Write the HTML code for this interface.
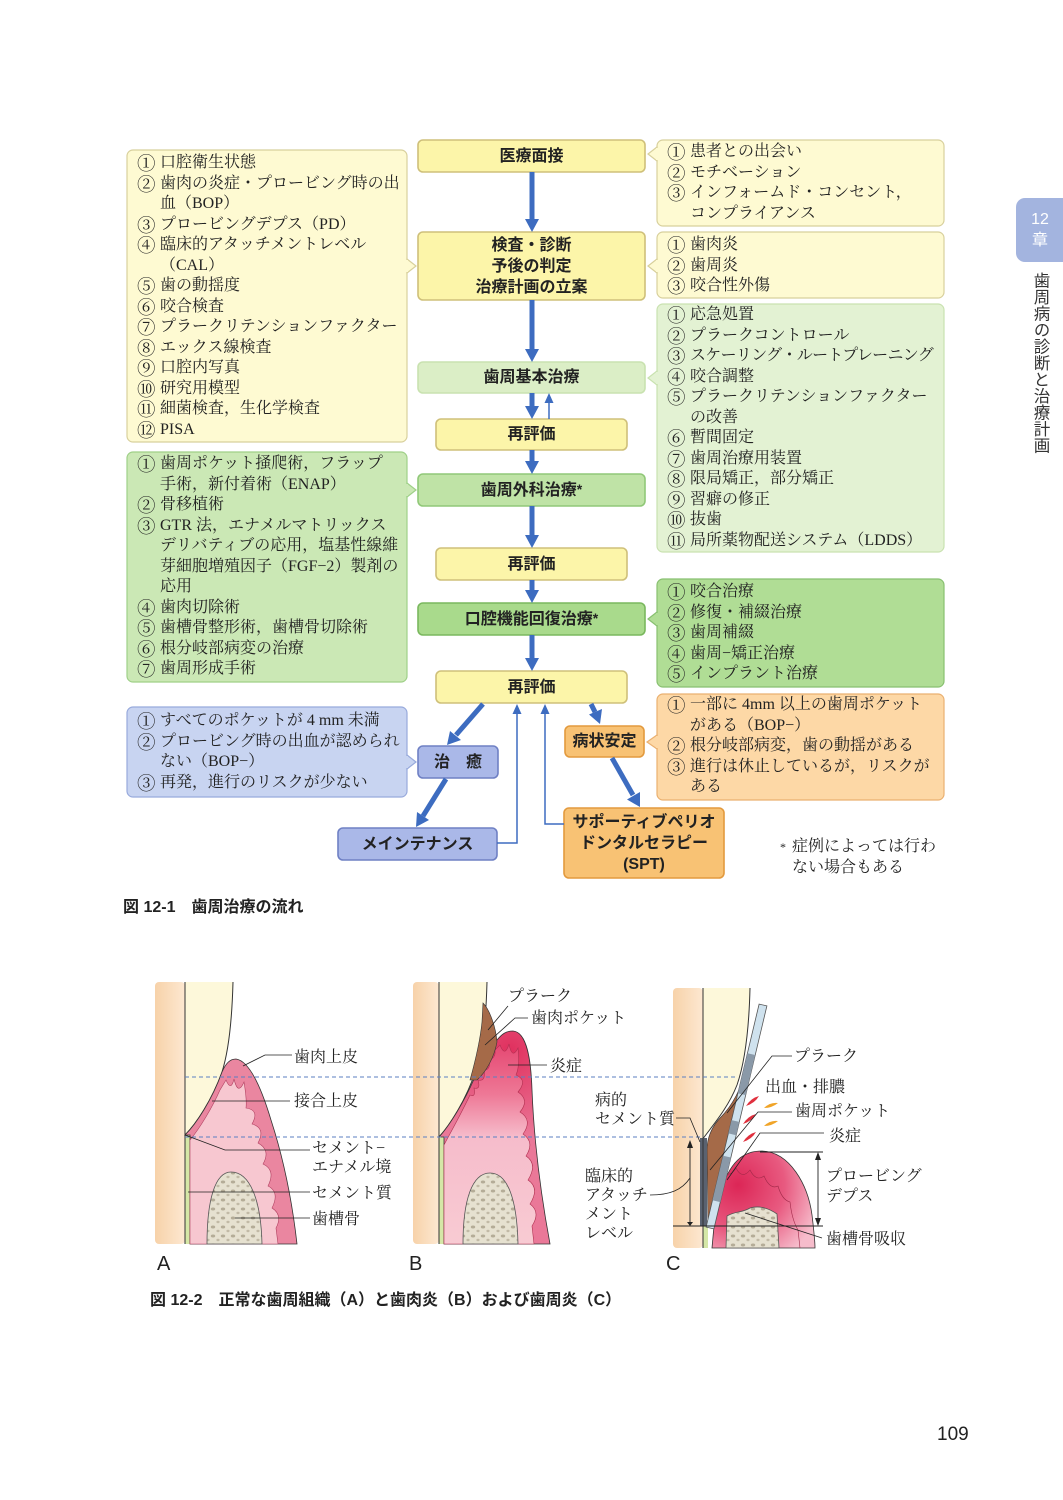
<!DOCTYPE html>
<html><head><meta charset="utf-8">
<style>
body{margin:0;}
#p{position:relative;width:1063px;height:1500px;background:#fff;overflow:hidden;}
svg{position:absolute;left:0;top:0;}
.l{position:absolute;font-family:"Liberation Serif","Noto Serif CJK SC",serif;font-size:16px;line-height:20.5px;color:#222;white-space:nowrap;}
.l div{height:20.5px}
.n{display:inline-block;width:23px;font-family:"Noto Serif CJK SC",serif;font-size:18.5px;line-height:20px;vertical-align:top;}
.c{padding-left:23px}
.b{position:absolute;display:flex;align-items:center;justify-content:center;text-align:center;font-family:"Liberation Sans","Noto Sans CJK JP",sans-serif;font-weight:bold;font-size:16px;color:#222;line-height:21px;}
.cap{position:absolute;font-family:"Liberation Sans","Noto Sans CJK JP",sans-serif;font-weight:bold;font-size:16px;color:#222;white-space:nowrap;}
sup{font-size:14px;line-height:0;position:relative;top:-1px}
</style></head>
<body><div id="p">
<svg width="1063" height="1500" viewBox="0 0 1063 1500">
<defs>
<linearGradient id="peach" x1="0" y1="0" x2="1" y2="0"><stop offset="0" stop-color="#f7d2a9"/><stop offset="1" stop-color="#fde8d1"/></linearGradient>
<pattern id="bone" width="10" height="9" patternUnits="userSpaceOnUse"><rect width="10" height="9" fill="#e6e1d0"/><ellipse cx="3" cy="3" rx="2.2" ry="1.5" fill="#b4ac97"/><ellipse cx="8" cy="7" rx="1.6" ry="1.2" fill="#c2baa6"/></pattern>
<radialGradient id="gumBo" gradientUnits="userSpaceOnUse" cx="510" cy="1050" r="90"><stop offset="0" stop-color="#e0305e"/><stop offset="1" stop-color="#ea7898"/></radialGradient>
<linearGradient id="gumB" gradientUnits="userSpaceOnUse" x1="0" y1="1030" x2="0" y2="1244"><stop offset="0" stop-color="#e33a68"/><stop offset="0.3" stop-color="#ee7896"/><stop offset="0.5" stop-color="#f6bccb"/><stop offset="1" stop-color="#f8cbd3"/></linearGradient>
<radialGradient id="gumC" gradientUnits="userSpaceOnUse" cx="738" cy="1185" r="85"><stop offset="0" stop-color="#dc2656"/><stop offset="0.55" stop-color="#e85a80"/><stop offset="1" stop-color="#f6bccb"/></radialGradient>
</defs>

<rect x="127" y="150" width="280" height="292" rx="6" fill="#fefad2" stroke="#d8d09c" stroke-width="1.2"/>
<rect x="127" y="452" width="280" height="230" rx="6" fill="#cbe8b5" stroke="#9fd088" stroke-width="1.2"/>
<rect x="127" y="707" width="280" height="90" rx="6" fill="#c8d4f1" stroke="#98aadc" stroke-width="1.2"/>
<rect x="657" y="140" width="287" height="86" rx="6" fill="#fefad2" stroke="#d8d09c" stroke-width="1.2"/>
<rect x="657" y="232" width="287" height="66" rx="6" fill="#fefad2" stroke="#d8d09c" stroke-width="1.2"/>
<rect x="657" y="304" width="287" height="248" rx="6" fill="#e3f2d3" stroke="#c9e2b0" stroke-width="1.2"/>
<rect x="657" y="579" width="287" height="108" rx="6" fill="#b0dd95" stroke="#88c070" stroke-width="1.2"/>
<rect x="657" y="694" width="287" height="106" rx="6" fill="#fdd8a6" stroke="#eab070" stroke-width="1.2"/>

<g stroke-width="1.2">
<polygon points="407,259 416,266 407,273" fill="#fefad2" stroke="#d8d09c"/><line x1="407" y1="260" x2="407" y2="272" stroke="#fefad2" stroke-width="2"/>
<polygon points="407,483 416,490 407,497" fill="#cbe8b5" stroke="#9fd088"/><line x1="407" y1="484" x2="407" y2="496" stroke="#cbe8b5" stroke-width="2"/>
<polygon points="407,755 416,762 407,769" fill="#c8d4f1" stroke="#98aadc"/><line x1="407" y1="756" x2="407" y2="768" stroke="#c8d4f1" stroke-width="2"/>
<polygon points="657,147 648,154 657,161" fill="#fefad2" stroke="#d8d09c"/><line x1="657" y1="148" x2="657" y2="160" stroke="#fefad2" stroke-width="2"/>
<polygon points="657,259 648,266 657,273" fill="#fefad2" stroke="#d8d09c"/><line x1="657" y1="260" x2="657" y2="272" stroke="#fefad2" stroke-width="2"/>
<polygon points="657,371 648,378 657,385" fill="#e3f2d3" stroke="#c9e2b0"/><line x1="657" y1="372" x2="657" y2="384" stroke="#e3f2d3" stroke-width="2"/>
<polygon points="657,612 648,619 657,626" fill="#b0dd95" stroke="#88c070"/><line x1="657" y1="613" x2="657" y2="625" stroke="#b0dd95" stroke-width="2"/>
<polygon points="657,735 647,742 657,749" fill="#fdd8a6" stroke="#eab070"/><line x1="657" y1="736" x2="657" y2="748" stroke="#fdd8a6" stroke-width="2"/>
</g>

<g stroke-width="1.6">
<rect x="418" y="140" width="227" height="32" rx="5" fill="#fcf5a9" stroke="#cfc07a"/>
<rect x="418" y="232" width="227" height="68" rx="5" fill="#fcf5a9" stroke="#cfc07a"/>
<rect x="418" y="362" width="227" height="31" rx="5" fill="#dbeec6" stroke="#c9e2b0"/>
<rect x="436" y="419" width="191" height="31" rx="5" fill="#fcf5a9" stroke="#cfc07a"/>
<rect x="418" y="474" width="227" height="32" rx="5" fill="#bfe3a6" stroke="#90c878"/>
<rect x="436" y="548" width="191" height="32" rx="5" fill="#fcf5a9" stroke="#cfc07a"/>
<rect x="418" y="603" width="227" height="32" rx="5" fill="#a9da8c" stroke="#7ab85e"/>
<rect x="436" y="671" width="191" height="32" rx="5" fill="#fcf5a9" stroke="#cfc07a"/>
<rect x="418" y="746" width="80" height="32" rx="5" fill="#aab8e8" stroke="#6f80c4"/>
<rect x="338" y="828" width="159" height="32" rx="5" fill="#aab8e8" stroke="#6f80c4"/>
<rect x="565" y="726" width="79" height="31" rx="5" fill="#f8c274" stroke="#e39a3e"/>
<rect x="564" y="808" width="160" height="70" rx="5" fill="#f8c274" stroke="#e39a3e"/>
</g>

<g fill="#3d6cc0" stroke="#3d6cc0">
<line x1="532" y1="172" x2="532" y2="221" stroke-width="5"/><polygon points="525,219 539,219 532,232" stroke="none"/>
<line x1="532" y1="300" x2="532" y2="351" stroke-width="5"/><polygon points="525,349 539,349 532,362" stroke="none"/>
<line x1="532" y1="393" x2="532" y2="408" stroke-width="5"/><polygon points="525,406 539,406 532,419" stroke="none"/>
<line x1="549" y1="419" x2="549" y2="401" stroke-width="1.5"/><polygon points="544.5,403 553.5,403 549,393" stroke="none"/>
<line x1="532" y1="450" x2="532" y2="463" stroke-width="5"/><polygon points="525,461 539,461 532,474" stroke="none"/>
<line x1="532" y1="506" x2="532" y2="537" stroke-width="5"/><polygon points="525,535 539,535 532,548" stroke="none"/>
<line x1="532" y1="580" x2="532" y2="592" stroke-width="5"/><polygon points="525,590 539,590 532,603" stroke="none"/>
<line x1="532" y1="635" x2="532" y2="660" stroke-width="5"/><polygon points="525,658 539,658 532,671" stroke="none"/>
<line x1="483" y1="704" x2="456" y2="735" stroke-width="5"/><polygon points="461,740 450,731 447,745" stroke="none"/>
<line x1="446" y1="779" x2="423" y2="816" stroke-width="5"/><polygon points="429,820 417,812 416,827" stroke="none"/>
<line x1="591" y1="704" x2="595" y2="712" stroke-width="5"/><polygon points="602,709 589,714.5 600,724" stroke="none"/>
<line x1="612" y1="758" x2="633" y2="795" stroke-width="5"/><polygon points="640,792 627,799.5 640,807" stroke="none"/>
<polyline points="497,843 517,843 517,712" fill="none" stroke-width="1.5"/><polygon points="512.5,714 521.5,714 517,704" stroke="none"/>
<polyline points="564,824 545,824 545,712" fill="none" stroke-width="1.5"/><polygon points="540.5,714 549.5,714 545,704" stroke="none"/>
</g>

<rect x="1016" y="198" width="60" height="64" rx="9" fill="#a3b4df"/>
<text x="1040" y="224" text-anchor="middle" font-family="Liberation Sans,sans-serif" font-size="16" fill="#fff">12</text>
<text x="1040" y="245" text-anchor="middle" font-family="Liberation Sans,Noto Sans CJK JP,sans-serif" font-size="16" fill="#fff">章</text>

<!-- A -->
<rect x="155" y="982" width="30" height="262" rx="4" fill="url(#peach)"/>
<path d="M185,982 L233,982 C232,1020 229,1050 222,1072 C212,1100 196,1124 185,1135 Z" fill="#fdf8da"/>
<path d="M233,982 C232,1020 229,1050 222,1072 C212,1100 196,1124 185,1135" fill="none" stroke="#333" stroke-width="1"/>
<rect x="185" y="1135" width="5" height="109" fill="#d5e7a7"/>
<path d="M222,1072 C226,1063 230,1059 236,1059 C250,1061 262,1090 271,1120 C284,1160 292,1200 297,1244 L190,1244 L190,1135 L185,1135 C196,1124 212,1100 222,1072 Z" fill="#ea86a0" stroke="#333" stroke-width="0.8"/>
<path d="M190,1140 C200,1128 212,1108 220,1090 L226,1080 Q231,1092 234,1079 Q238,1096 244,1082 Q247,1100 246,1108 Q260,1110 252,1124 Q266,1128 258,1143 Q271,1150 263,1164 Q276,1170 268,1186 Q280,1192 272,1208 Q283,1215 276,1228 L278,1244 L190,1244 Z" fill="#f7c7d0" stroke="#b04060" stroke-width="0.6"/>
<path d="M207,1244 C207,1200 215,1172 231,1172 C250,1172 261,1200 262,1244 Z" fill="url(#bone)" stroke="#555" stroke-width="0.8"/>
<line x1="185" y1="982" x2="185" y2="1244" stroke="#333" stroke-width="1"/>

<!-- B -->
<rect x="413" y="982" width="26" height="262" rx="4" fill="url(#peach)"/>
<path d="M439,982 L487,982 C486,1020 483,1050 476,1070 C466,1100 450,1125 439,1137 Z" fill="#fdf8da"/>
<path d="M487,982 C486,1020 483,1050 476,1070 C466,1100 450,1125 439,1137" fill="none" stroke="#333"/>
<rect x="439" y="1137" width="5" height="107" fill="#d5e7a7"/>
<path d="M474,1079 C483,1062 491,1046 497,1040 C502,1034 506,1031 513,1031 C527,1032 531,1060 532,1090 C534,1140 540,1190 550,1244 L444,1244 L444,1137 L439,1137 C450,1125 465,1100 474,1079 Z" fill="url(#gumBo)" stroke="#333" stroke-width="0.8"/>
<path d="M444,1145 C452,1130 462,1112 470,1095 Q476,1098 474,1088 Q481,1090 478,1080 Q486,1082 484,1070 Q491,1070 489,1060 Q496,1058 495,1050 L500,1045 Q505,1058 509,1044 Q512,1060 518,1048 Q520,1066 516,1075 Q528,1080 518,1092 Q530,1100 520,1112 Q533,1120 523,1134 Q535,1142 526,1156 Q538,1164 528,1180 Q540,1188 530,1204 Q541,1212 532,1226 L534,1244 L444,1244 Z" fill="url(#gumB)" stroke="#b03050" stroke-width="0.6"/>
<path d="M483,1003 C490,1010 496,1028 497,1042 C494,1058 486,1072 477,1080 L470,1080 C475,1062 480,1042 482,1022 Z" fill="#a56a48" stroke="#333" stroke-width="0.6"/>
<path d="M463,1244 C463,1200 472,1173 490,1173 C508,1173 517,1200 518,1244 Z" fill="url(#bone)" stroke="#555" stroke-width="0.8"/>
<line x1="439" y1="982" x2="439" y2="1244" stroke="#333" stroke-width="1"/>

<!-- C -->
<rect x="673" y="988" width="30" height="260" rx="4" fill="url(#peach)"/>
<path d="M703,988 L750,988 C749,1030 745,1062 737,1085 C728,1108 713,1125 702,1140 Z" fill="#fdf8da"/>
<path d="M750,988 C749,1030 745,1062 737,1085 C728,1108 713,1125 702,1140" fill="none" stroke="#333"/>
<path d="M747,1066 C742,1088 732,1106 720,1118 C711,1128 707,1138 707,1150 L708,1226 L714,1226 L749,1070 Z" fill="#a56a48" stroke="#333" stroke-width="0.6"/>
<rect x="700" y="1138" width="7" height="88" fill="#5a6270"/>
<rect x="703" y="1226" width="5" height="22" fill="#d5e7a7"/>
<path d="M714,1226 C716,1200 725,1170 740,1158 C748,1152 755,1151 762,1151 C790,1152 808,1185 812,1215 C814,1232 815,1240 815,1248 L712,1248 Z" fill="url(#gumC)" stroke="#333" stroke-width="0.8"/>
<path d="M722,1172 Q730,1178 736,1168 Q742,1180 750,1170 Q756,1182 764,1176 Q770,1190 778,1186 Q782,1200 790,1202 Q792,1220 798,1230 L800,1248" fill="none" stroke="#a02848" stroke-width="0.6"/>
<path d="M726,1248 L727,1216 C735,1211 742,1213 750,1208 C760,1205 770,1209 777,1214 L779,1248 Z" fill="url(#bone)" stroke="#555" stroke-width="0.8"/>
<polygon points="766.9,1005.9 759.1,1004.1 706.1,1227.1 713.9,1228.9" fill="#cfe2ee" stroke="#555" stroke-width="0.8"/>
<polygon points="755.2,1055 747.4,1053.2 737.9,1093.3 745.7,1095.1" fill="#8a99a8"/>
<polygon points="739.3,1121.9 731.5,1120.1 728.4,1133.4 736.2,1135.2" fill="#8a99a8"/>
<polygon points="730.9,1157.5 723.1,1155.7 712.5,1200.3 720.3,1202.1" fill="#8a99a8"/>
<line x1="703" y1="988" x2="703" y2="1248" stroke="#333" stroke-width="1"/>
<g fill="#e0303e"><path d="M746,1106 q5,-8 13,-10 q-4,7 -13,10z"/><path d="M743,1124 q5,-8 13,-10 q-4,7 -13,10z"/><path d="M743,1142 q5,-8 13,-10 q-4,7 -13,10z"/></g>
<g fill="#f0a428"><path d="M764,1108 q6,-6 14,-5 q-6,5 -14,5z"/><path d="M764,1126 q6,-6 14,-5 q-6,5 -14,5z"/></g>
<g stroke="#222" stroke-width="0.9" fill="#222">
<line x1="760" y1="1152" x2="823" y2="1152"/>
<line x1="673" y1="1226" x2="823" y2="1226"/>
<line x1="690" y1="1144" x2="690" y2="1222"/>
<polygon points="687,1148 693,1148 690,1140" stroke="none"/><polygon points="687,1222 693,1222 690,1226" stroke="none"/>
<line x1="818" y1="1156" x2="818" y2="1222"/>
<polygon points="815,1160 821,1160 818,1152" stroke="none"/><polygon points="815,1218 821,1218 818,1226" stroke="none"/>
</g>

<g stroke="#5b7fc2" stroke-width="1" stroke-dasharray="4 3">
<line x1="185" y1="1077" x2="738" y2="1077"/>
<line x1="185" y1="1137" x2="700" y2="1137"/>
</g>

<g stroke="#222" stroke-width="0.8" fill="none">
<polyline points="243,1066 265,1055 292,1055"/>
<polyline points="212,1101 290,1101"/>
<polyline points="185,1135 225,1150 310,1150"/>
<polyline points="188,1192 310,1192"/>
<polyline points="235,1218 310,1218"/>
<polyline points="488,1030 508,1006"/>
<polyline points="485,1045 515,1018 528,1018"/>
<polyline points="508,1065 547,1065"/>
<polyline points="676,1118 690,1118 700,1142"/>
<path d="M650,1195 C670,1195 682,1190 690,1178"/>
<polyline points="727,1113 772,1056 792,1056"/>
<polyline points="710,1170 758,1112 792,1112"/>
<polyline points="727,1180 760,1133 824,1133"/>
<polyline points="745,1213 822,1238"/>
</g>

<g font-family="Liberation Serif,Noto Serif CJK SC,serif" font-size="16" fill="#222">
<text x="294" y="1062">歯肉上皮</text>
<text x="294" y="1106">接合上皮</text>
<text x="312" y="1153">セメント−</text>
<text x="312" y="1172">エナメル境</text>
<text x="312" y="1198">セメント質</text>
<text x="312" y="1224">歯槽骨</text>
<text x="508" y="1001">プラーク</text>
<text x="531" y="1023">歯肉ポケット</text>
<text x="550" y="1071">炎症</text>
<text x="595" y="1105">病的</text>
<text x="595" y="1124">セメント質</text>
<text x="585" y="1181">臨床的</text>
<text x="585" y="1200">アタッチ</text>
<text x="585" y="1219">メント</text>
<text x="585" y="1238">レベル</text>
<text x="794" y="1061">プラーク</text>
<text x="765" y="1092">出血・排膿</text>
<text x="795" y="1116">歯周ポケット</text>
<text x="829" y="1141">炎症</text>
<text x="826" y="1181">プロービング</text>
<text x="826" y="1201">デプス</text>
<text x="826" y="1244">歯槽骨吸収</text>
</g>
<g font-family="Liberation Sans,sans-serif" font-size="20" fill="#222">
<text x="157" y="1270">A</text>
<text x="409" y="1270">B</text>
<text x="666" y="1270">C</text>
</g>
<text x="937" y="1440" font-family="Liberation Sans,sans-serif" font-size="19" fill="#222">109</text>
</svg>

<div style="position:absolute;left:1031px;top:272px;writing-mode:vertical-rl;font-family:'Liberation Sans','Noto Sans CJK JP',sans-serif;font-size:16.5px;color:#333;line-height:18px;">歯周病の診断と治療計画</div>

<div class="b" style="left:418px;top:140px;width:227px;height:32px;">医療面接</div>
<div class="b" style="left:418px;top:232px;width:227px;height:68px;">検査・診断<br>予後の判定<br>治療計画の立案</div>
<div class="b" style="left:418px;top:362px;width:227px;height:31px;">歯周基本治療</div>
<div class="b" style="left:436px;top:419px;width:191px;height:31px;">再評価</div>
<div class="b" style="left:418px;top:474px;width:227px;height:32px;">歯周外科治療<sup>*</sup></div>
<div class="b" style="left:436px;top:548px;width:191px;height:32px;">再評価</div>
<div class="b" style="left:418px;top:603px;width:227px;height:32px;">口腔機能回復治療<sup>*</sup></div>
<div class="b" style="left:436px;top:671px;width:191px;height:32px;">再評価</div>
<div class="b" style="left:418px;top:746px;width:80px;height:32px;">治　癒</div>
<div class="b" style="left:338px;top:828px;width:159px;height:32px;">メインテナンス</div>
<div class="b" style="left:565px;top:726px;width:79px;height:31px;">病状安定</div>
<div class="b" style="left:564px;top:808px;width:160px;height:70px;">サポーティブペリオ<br>ドンタルセラピー<br>(SPT)</div>

<div class="l" style="left:137px;top:153px;">
<div><span class="n">①</span>口腔衛生状態</div>
<div><span class="n">②</span>歯肉の炎症・プロービング時の出</div>
<div class="c">血（BOP）</div>
<div><span class="n">③</span>プロービングデプス（PD）</div>
<div><span class="n">④</span>臨床的アタッチメントレベル</div>
<div class="c">（CAL）</div>
<div><span class="n">⑤</span>歯の動揺度</div>
<div><span class="n">⑥</span>咬合検査</div>
<div><span class="n">⑦</span>プラークリテンションファクター</div>
<div><span class="n">⑧</span>エックス線検査</div>
<div><span class="n">⑨</span>口腔内写真</div>
<div><span class="n">⑩</span>研究用模型</div>
<div><span class="n">⑪</span>細菌検査，生化学検査</div>
<div><span class="n">⑫</span>PISA</div>
</div>

<div class="l" style="left:137px;top:454px;">
<div><span class="n">①</span>歯周ポケット掻爬術，フラップ</div>
<div class="c">手術，新付着術（ENAP）</div>
<div><span class="n">②</span>骨移植術</div>
<div><span class="n">③</span>GTR 法，エナメルマトリックス</div>
<div class="c">デリバティブの応用，塩基性線維</div>
<div class="c">芽細胞増殖因子（FGF−2）製剤の</div>
<div class="c">応用</div>
<div><span class="n">④</span>歯肉切除術</div>
<div><span class="n">⑤</span>歯槽骨整形術，歯槽骨切除術</div>
<div><span class="n">⑥</span>根分岐部病変の治療</div>
<div><span class="n">⑦</span>歯周形成手術</div>
</div>

<div class="l" style="left:137px;top:711px;">
<div><span class="n">①</span>すべてのポケットが 4 mm 未満</div>
<div><span class="n">②</span>プロービング時の出血が認められ</div>
<div class="c">ない（BOP−）</div>
<div><span class="n">③</span>再発，進行のリスクが少ない</div>
</div>

<div class="l" style="left:667px;top:142px;">
<div><span class="n">①</span>患者との出会い</div>
<div><span class="n">②</span>モチベーション</div>
<div><span class="n">③</span>インフォームド・コンセント，</div>
<div class="c">コンプライアンス</div>
</div>

<div class="l" style="left:667px;top:235px;">
<div><span class="n">①</span>歯肉炎</div>
<div><span class="n">②</span>歯周炎</div>
<div><span class="n">③</span>咬合性外傷</div>
</div>

<div class="l" style="left:667px;top:305px;">
<div><span class="n">①</span>応急処置</div>
<div><span class="n">②</span>プラークコントロール</div>
<div style="letter-spacing:-0.7px"><span class="n" style="letter-spacing:0">③</span>スケーリング・ルートプレーニング</div>
<div><span class="n">④</span>咬合調整</div>
<div><span class="n">⑤</span>プラークリテンションファクター</div>
<div class="c">の改善</div>
<div><span class="n">⑥</span>暫間固定</div>
<div><span class="n">⑦</span>歯周治療用装置</div>
<div><span class="n">⑧</span>限局矯正，部分矯正</div>
<div><span class="n">⑨</span>習癖の修正</div>
<div><span class="n">⑩</span>抜歯</div>
<div><span class="n">⑪</span>局所薬物配送システム（LDDS）</div>
</div>

<div class="l" style="left:667px;top:582px;">
<div><span class="n">①</span>咬合治療</div>
<div><span class="n">②</span>修復・補綴治療</div>
<div><span class="n">③</span>歯周補綴</div>
<div><span class="n">④</span>歯周−矯正治療</div>
<div><span class="n">⑤</span>インプラント治療</div>
</div>

<div class="l" style="left:667px;top:695px;">
<div><span class="n">①</span>一部に 4mm 以上の歯周ポケット</div>
<div class="c">がある（BOP−）</div>
<div><span class="n">②</span>根分岐部病変，歯の動揺がある</div>
<div><span class="n">③</span>進行は休止しているが，リスクが</div>
<div class="c">ある</div>
</div>

<div class="l" style="left:780px;top:837px;">
<div><span style="font-size:12px;display:inline-block;width:12px;vertical-align:top">*</span>症例によっては行わ</div>
<div style="padding-left:12px">ない場合もある</div>
</div>

<div class="cap" style="left:123px;top:893px;">図 12-1　歯周治療の流れ</div>
<div class="cap" style="left:150px;top:1286px;">図 12-2　正常な歯周組織（A）と歯肉炎（B）および歯周炎（C）</div>

</div></body></html>
